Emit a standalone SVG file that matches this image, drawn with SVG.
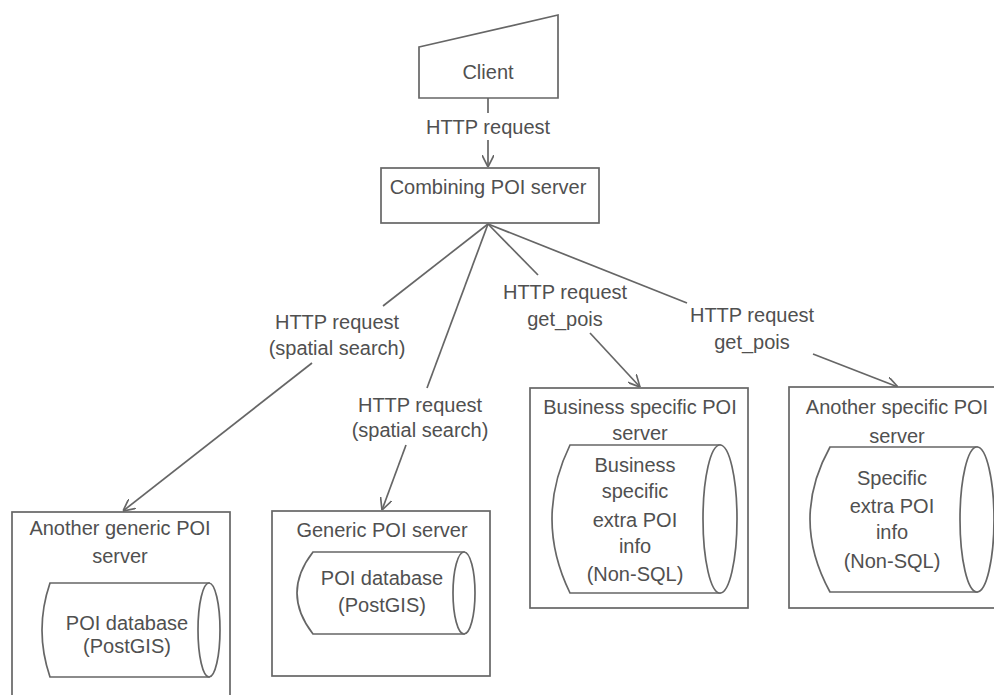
<svg xmlns="http://www.w3.org/2000/svg" width="994" height="695" viewBox="0 0 994 695">
<style>
  .shape { fill: #ffffff; stroke: #666666; stroke-width: 1.7; }
  .line { fill: none; stroke: #666666; stroke-width: 1.7; }
  .t { font-family: "Liberation Sans", Arial, sans-serif; font-size: 20px; fill: #505050; text-anchor: middle; }
</style>
<defs>
  <marker id="arrow" viewBox="0 0 10 10" refX="10" refY="5" markerWidth="12" markerHeight="12" markerUnits="userSpaceOnUse" orient="auto">
    <path d="M0,0 L10,5 L0,10" fill="none" stroke="#666666" stroke-width="1.4"/>
  </marker>
</defs>
<rect width="994" height="695" fill="#ffffff"/>

<g id="connectors">
  <line class="line" x1="488" y1="98" x2="488" y2="113"/>
  <line class="line" x1="488" y1="140" x2="488" y2="167" marker-end="url(#arrow)"/>
  <line class="line" x1="488" y1="224" x2="383" y2="306"/>
  <line class="line" x1="312" y1="363" x2="123" y2="511" marker-end="url(#arrow)"/>
  <line class="line" x1="488" y1="224" x2="427" y2="388"/>
  <line class="line" x1="406" y1="445" x2="382" y2="510" marker-end="url(#arrow)"/>
  <line class="line" x1="488" y1="224" x2="538" y2="275"/>
  <line class="line" x1="590" y1="333" x2="640" y2="387" marker-end="url(#arrow)"/>
  <line class="line" x1="488" y1="224" x2="687" y2="303"/>
  <line class="line" x1="813" y1="354" x2="898" y2="387" marker-end="url(#arrow)"/>
  <text class="t" x="488" y="134">HTTP request</text>
  <text class="t" x="337" y="329">HTTP request</text>
  <text class="t" x="337" y="355">(spatial search)</text>
  <text class="t" x="420" y="412">HTTP request</text>
  <text class="t" x="420" y="437">(spatial search)</text>
  <text class="t" x="565" y="299">HTTP request</text>
  <text class="t" x="565" y="326">get_pois</text>
  <text class="t" x="752" y="322">HTTP request</text>
  <text class="t" x="752" y="349">get_pois</text>
</g>

<g id="client">
  <polygon class="shape" points="419,47 558,15 558,98 419,98"/>
  <text class="t" x="488" y="79">Client</text>
</g>

<g id="combining">
  <rect class="shape" x="381" y="168" width="218" height="55"/>
  <text class="t" x="488" y="194">Combining POI server</text>
</g>

<g id="another-generic">
  <rect class="shape" x="12" y="512" width="218" height="200"/>
  <text class="t" x="120" y="535">Another generic POI</text>
  <text class="t" x="120" y="563">server</text>
  <path class="shape" d="M50,583 L209,583 L209,677 L50,677 Q34,630 50,583 Z"/>
  <ellipse class="shape" cx="209" cy="630" rx="11" ry="47"/>
  <text class="t" x="127" y="630">POI database</text>
  <text class="t" x="127" y="653">(PostGIS)</text>
</g>

<g id="generic">
  <rect class="shape" x="272" y="511" width="218" height="165"/>
  <text class="t" x="382" y="537">Generic POI server</text>
  <path class="shape" d="M313,552 L464,552 L464,634 L313,634 Q281,593 313,552 Z"/>
  <ellipse class="shape" cx="464" cy="593" rx="11" ry="41"/>
  <text class="t" x="382" y="585">POI database</text>
  <text class="t" x="382" y="612">(PostGIS)</text>
</g>

<g id="business">
  <rect class="shape" x="530" y="388" width="218" height="220"/>
  <text class="t" x="640" y="414">Business specific POI</text>
  <text class="t" x="640" y="440">server</text>
  <path class="shape" d="M570,445 L720,445 L720,593 L570,593 Q534,519 570,445 Z"/>
  <ellipse class="shape" cx="720" cy="519" rx="17" ry="74"/>
  <text class="t" x="635" y="472">Business</text>
  <text class="t" x="635" y="498">specific</text>
  <text class="t" x="635" y="527">extra POI</text>
  <text class="t" x="635" y="553">info</text>
  <text class="t" x="635" y="581">(Non-SQL)</text>
</g>

<g id="another-specific">
  <rect class="shape" x="789" y="387" width="230" height="221"/>
  <text class="t" x="897" y="414">Another specific POI</text>
  <path class="shape" d="M830,447 L977,447 L977,592 L830,592 Q790,519 830,447 Z"/>
  <ellipse class="shape" cx="977" cy="519.5" rx="17" ry="72.5"/>
  <text class="t" x="897" y="443">server</text>
  <text class="t" x="892" y="485">Specific</text>
  <text class="t" x="892" y="513">extra POI</text>
  <text class="t" x="892" y="539">info</text>
  <text class="t" x="892" y="568">(Non-SQL)</text>
</g>
</svg>
